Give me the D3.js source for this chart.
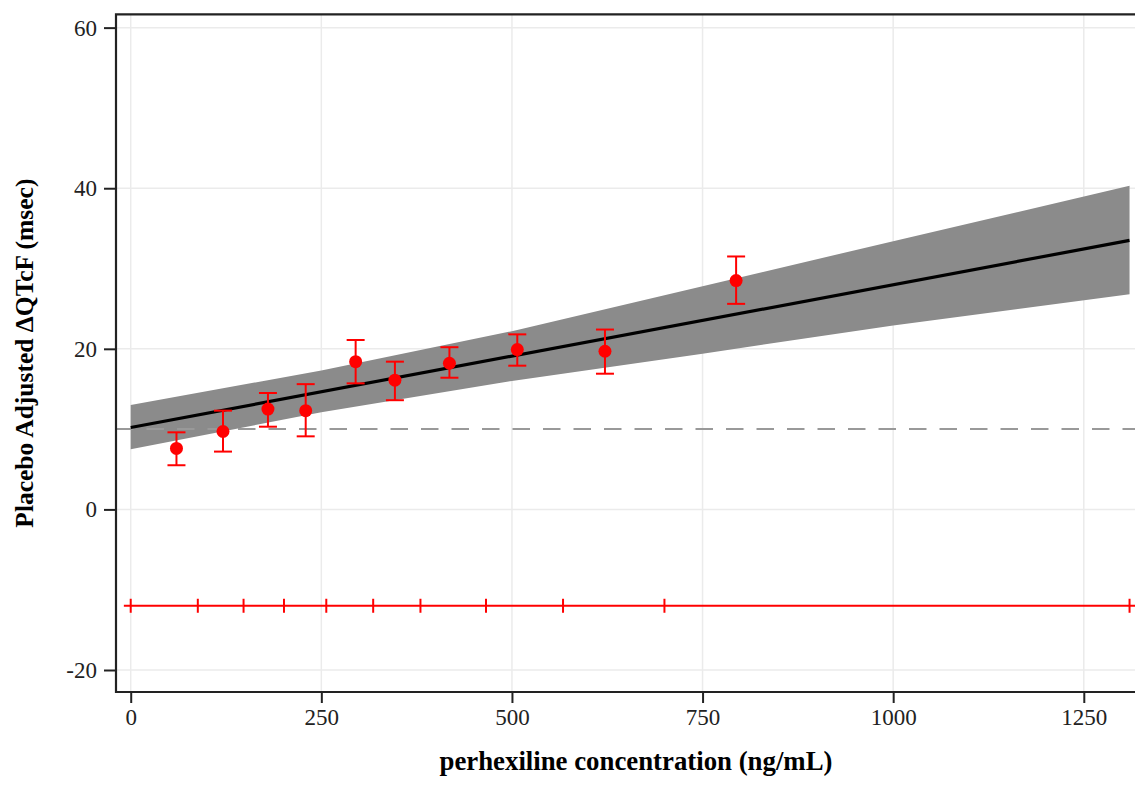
<!DOCTYPE html>
<html>
<head>
<meta charset="utf-8">
<script src="https://cdn.jsdelivr.net/npm/d3@7"></script>
<style>
  body { margin: 0; background: #fff; }
  svg { display: block; font-family: "Liberation Serif", "Times New Roman", serif; }
</style>
</head>
<body>
<svg id="chart" width="1135" height="785"></svg>
<script>
// binned observations: mid concentration, mean dQTcF and 90% CI
const concMid = [60, 121, 180, 229.5, 295, 346.5, 418, 507, 622, 794];
const dQTcF = [7.6, 9.7, 12.5, 12.3, 18.4, 16.1, 18.2, 19.9, 19.7, 28.5];
const ciLow = [5.5, 7.2, 10.3, 9.1, 15.7, 13.6, 16.4, 17.9, 16.9, 25.6];
const ciHigh = [9.6, 12.3, 14.5, 15.6, 21.1, 18.4, 20.2, 21.8, 22.4, 31.5];

// model prediction and its confidence band
const fitX = [0, 1310];
const fitY = [10.2, 33.5];
const bandX = [0, 250, 500, 750, 1000, 1310];
const bandLow = [7.5, 12.1, 16.0, 19.4, 22.9, 26.8];
const bandHigh = [13.0, 17.3, 22.2, 27.8, 33.4, 40.3];

// concentration bin boundaries shown along the bottom
const binEdges = [0, 88, 148, 201, 256.5, 318, 380, 466, 567, 700, 1310];
const binLineRange = [-9, 1320];
const binLineY = -12;
const refY = 10;

const xTicks = [0, 250, 500, 750, 1000, 1250];
const yTicks = [-20, 0, 20, 40, 60];

const svg = d3.select("#chart");
const margin = { top: 14.3, left: 116, bottom: 692, right: 1156 };

const x = d3.scaleLinear().domain([-19.3, 1344.7]).range([margin.left, margin.right]);
const y = d3.scaleLinear().domain([-22.74, 61.66]).range([margin.bottom, margin.top]);

// grid
const grid = svg.append("g");
grid.selectAll(".gx").data(xTicks).enter().append("line")
  .attr("x1", d => x(d)).attr("x2", d => x(d))
  .attr("y1", margin.top).attr("y2", margin.bottom)
  .attr("stroke", "#ebebeb").attr("stroke-width", 1.5);
grid.selectAll(".gy").data(yTicks).enter().append("line")
  .attr("x1", margin.left).attr("x2", margin.right)
  .attr("y1", d => y(d)).attr("y2", d => y(d))
  .attr("stroke", "#ebebeb").attr("stroke-width", 1.5);

// confidence band
const band = bandX.map((d, i) => ({ x: d, lo: bandLow[i], hi: bandHigh[i] }));
svg.append("path")
  .datum(band)
  .attr("fill", "#8b8b8b")
  .attr("d", d3.area().x(d => x(d.x)).y0(d => y(d.lo)).y1(d => y(d.hi)));

// reference line
svg.append("line")
  .attr("x1", margin.left).attr("x2", margin.right)
  .attr("y1", y(refY)).attr("y2", y(refY))
  .attr("stroke", "#999").attr("stroke-width", 2)
  .attr("stroke-dasharray", "17.5,13");

// fit line
svg.append("path")
  .datum(fitX.map((d, i) => [d, fitY[i]]))
  .attr("fill", "none").attr("stroke", "#000").attr("stroke-width", 3.2)
  .attr("d", d3.line().x(d => x(d[0])).y(d => y(d[1])));

// error bars and points
const obs = concMid.map((d, i) => ({ x: d, y: dQTcF[i], lo: ciLow[i], hi: ciHigh[i] }));
const eb = svg.append("g").attr("stroke", "#ff0000").attr("stroke-width", 2);
eb.selectAll(".v").data(obs).enter().append("line")
  .attr("x1", d => x(d.x)).attr("x2", d => x(d.x))
  .attr("y1", d => y(d.lo)).attr("y2", d => y(d.hi));
eb.selectAll(".top").data(obs).enter().append("line")
  .attr("x1", d => x(d.x) - 9).attr("x2", d => x(d.x) + 9)
  .attr("y1", d => y(d.hi)).attr("y2", d => y(d.hi));
eb.selectAll(".bot").data(obs).enter().append("line")
  .attr("x1", d => x(d.x) - 9).attr("x2", d => x(d.x) + 9)
  .attr("y1", d => y(d.lo)).attr("y2", d => y(d.lo));
svg.selectAll(".pt").data(obs).enter().append("circle")
  .attr("cx", d => x(d.x)).attr("cy", d => y(d.y)).attr("r", 6.5)
  .attr("fill", "#ff0000");

// bin line
const bins = svg.append("g").attr("stroke", "#ff0000").attr("stroke-width", 2);
bins.append("line")
  .attr("x1", x(binLineRange[0])).attr("x2", x(binLineRange[1]))
  .attr("y1", y(binLineY)).attr("y2", y(binLineY));
bins.selectAll(".edge").data(binEdges).enter().append("line")
  .attr("x1", d => x(d)).attr("x2", d => x(d))
  .attr("y1", y(binLineY) - 7).attr("y2", y(binLineY) + 7);

// axes
const xAxis = svg.append("g")
  .attr("transform", `translate(0,${margin.bottom})`)
  .call(d3.axisBottom(x).tickValues(xTicks).tickSize(11).tickPadding(6).tickFormat(d => String(d)));
const yAxis = svg.append("g")
  .attr("transform", `translate(${margin.left},0)`)
  .call(d3.axisLeft(y).tickValues(yTicks).tickSize(12).tickPadding(7).tickFormat(d => String(d)));

[xAxis, yAxis].forEach(a => {
  a.select(".domain").remove();
  a.selectAll("line").attr("stroke", "#222").attr("stroke-width", 2);
  a.selectAll("text").attr("fill", "#222").style("font-size", "23px")
    .style("font-family", "'Liberation Serif', 'Times New Roman', serif");
});

// panel border (top, left, bottom)
svg.append("path")
  .attr("fill", "none").attr("stroke", "#222").attr("stroke-width", 2.2)
  .attr("d", `M${margin.right},${margin.top}H${margin.left}V${margin.bottom}H${margin.right}`);

// titles
svg.append("text")
  .attr("x", (margin.left + margin.right) / 2).attr("y", 770)
  .attr("text-anchor", "middle")
  .style("font-size", "26.8px").style("font-weight", "bold")
  .text("perhexiline concentration (ng/mL)");

svg.append("text")
  .attr("transform", `translate(33,${(margin.top + margin.bottom) / 2}) rotate(-90)`)
  .attr("text-anchor", "middle")
  .style("font-size", "25.5px").style("font-weight", "bold")
  .text("Placebo Adjusted ΔQTcF (msec)");
</script>
</body>
</html>
